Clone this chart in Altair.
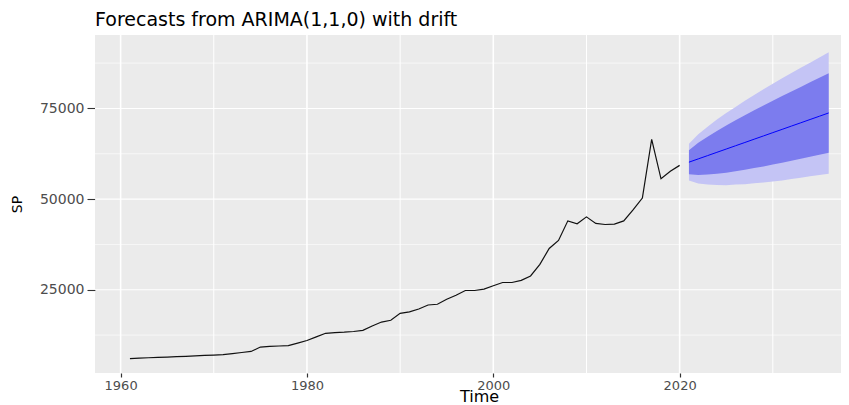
import altair as alt
import pandas as pd

# ---- data ----
years = list(range(1961, 2021))
sp = [6000, 6150, 6250, 6350, 6450, 6550, 6650, 6750, 6900, 7000,
      7100, 7400, 7700, 8000, 9200, 9400, 9500, 9600, 10300, 11000,
      12000, 13000, 13200, 13300, 13500, 13800, 15000, 16100, 16600, 18500,
      18900, 19700, 20800, 21000, 22400, 23500, 24800, 24800, 25200, 26100,
      27000, 27000, 27600, 28800, 32000, 36400, 38600, 44000, 43200, 45100,
      43300, 43000, 43100, 44000, 47000, 50300, 66500, 55600, 57700, 59300]

fc_years = list(range(2021, 2037))
fc_mean = [60180, 61090, 61990, 62900, 63800, 64710, 65610, 66520,
           67420, 68330, 69230, 70140, 71040, 71950, 72850, 73760]
lo80 = [56880, 56640, 56790, 57000, 57300, 57710, 58110, 58570,
        59020, 59530, 60030, 60590, 61140, 61700, 62250, 62810]
hi80 = [63480, 65540, 67190, 68800, 70300, 71710, 73110, 74470,
        75820, 77130, 78430, 79690, 80940, 82200, 83450, 84710]
lo95 = [55130, 54280, 54030, 53870, 53850, 54000, 54130, 54360,
        54570, 54870, 55150, 55530, 55890, 56270, 56630, 57010]
hi95 = [65230, 67900, 69950, 71930, 73750, 75420, 77090, 78680,
        80270, 81790, 83310, 84750, 86190, 87630, 89070, 90510]

x_major = [1960, 1980, 2000, 2020]
x_minor = [1970, 1990, 2010, 2030]
y_major = [25000, 50000, 75000]
y_minor = [12500, 37500, 62500, 87500]

hist = pd.DataFrame({"year": years, "sp": sp})
fc = pd.DataFrame({"year": fc_years, "mean": fc_mean, "lo80": lo80,
                   "hi80": hi80, "lo95": lo95, "hi95": hi95})

FONT = "DejaVu Sans"
xscale = alt.Scale(domain=[1957.25, 2037.32], nice=False, zero=False)
yscale = alt.Scale(domain=[2050, 95250], nice=False, zero=False)

xaxis = alt.Axis(values=x_major, format="d", grid=False, domain=False,
                 tickSize=4, tickColor="#333333", tickWidth=1.2,
                 labelFont=FONT, labelFontSize=13, labelColor="#4D4D4D",
                 labelPadding=2, title="Time", titleFont=FONT,
                 titleFontSize=16, titleFontWeight="normal",
                 titleColor="#000000", titleX=384, titleY=28,
                 titleAlign="center", titleBaseline="alphabetic")
yaxis = alt.Axis(values=y_major, format="d", grid=False, domain=False,
                 tickSize=8, tickColor="#333333", tickWidth=1.1,
                 labelFont=FONT, labelFontSize=14, labelColor="#4D4D4D",
                 labelPadding=3, title="SP", titleFont=FONT,
                 titleFontSize=14, titleFontWeight="normal",
                 titleColor="#000000", titleX=-77.5, titleY=169,
                 titleAngle=270, titleAlign="center", titleBaseline="middle")

X = lambda f: alt.X(f, scale=xscale, axis=xaxis)
Y = lambda f: alt.Y(f, scale=yscale, axis=yaxis)

gx_major = alt.Chart(pd.DataFrame({"v": x_major})).mark_rule(
    color="white", strokeWidth=1.6).encode(x=X("v:Q"))
gx_minor = alt.Chart(pd.DataFrame({"v": x_minor})).mark_rule(
    color="white", strokeWidth=1.0).encode(x=X("v:Q"))
gy_major = alt.Chart(pd.DataFrame({"v": y_major})).mark_rule(
    color="white", strokeWidth=1.1).encode(y=Y("v:Q"))
gy_minor = alt.Chart(pd.DataFrame({"v": y_minor})).mark_rule(
    color="white", strokeWidth=0.6).encode(y=Y("v:Q"))

band95 = alt.Chart(fc).mark_area(color="#C4C4F5", opacity=1).encode(
    x=X("year:Q"), y=Y("lo95:Q"), y2="hi95:Q")
band80 = alt.Chart(fc).mark_area(color="#7C7CEE", opacity=1).encode(
    x=X("year:Q"), y=Y("lo80:Q"), y2="hi80:Q")
mean_line = alt.Chart(fc).mark_line(color="#0000FF", strokeWidth=1).encode(
    x=X("year:Q"), y=Y("mean:Q"))
hist_line = alt.Chart(hist).mark_line(color="#111111", strokeWidth=1.2).encode(
    x=X("year:Q"), y=Y("sp:Q"))

chart = alt.layer(
    gy_minor, gx_minor, gy_major, gx_major, band95, band80, mean_line, hist_line
).properties(
    width=746, height=338,
    padding={"left": 87, "top": 27, "right": 0, "bottom": 32},
    autosize=alt.AutoSizeParams(type="none"),
    background="white",
    title=alt.TitleParams(text="Forecasts from ARIMA(1,1,0) with drift",
                          anchor="start", frame="group", font=FONT,
                          fontSize=19, fontWeight="normal", color="#000000",
                          offset=4),
).configure_view(fill="#EBEBEB", strokeWidth=0)

chart.save("out.html", embed_options={"renderer": "svg", "actions": False})
